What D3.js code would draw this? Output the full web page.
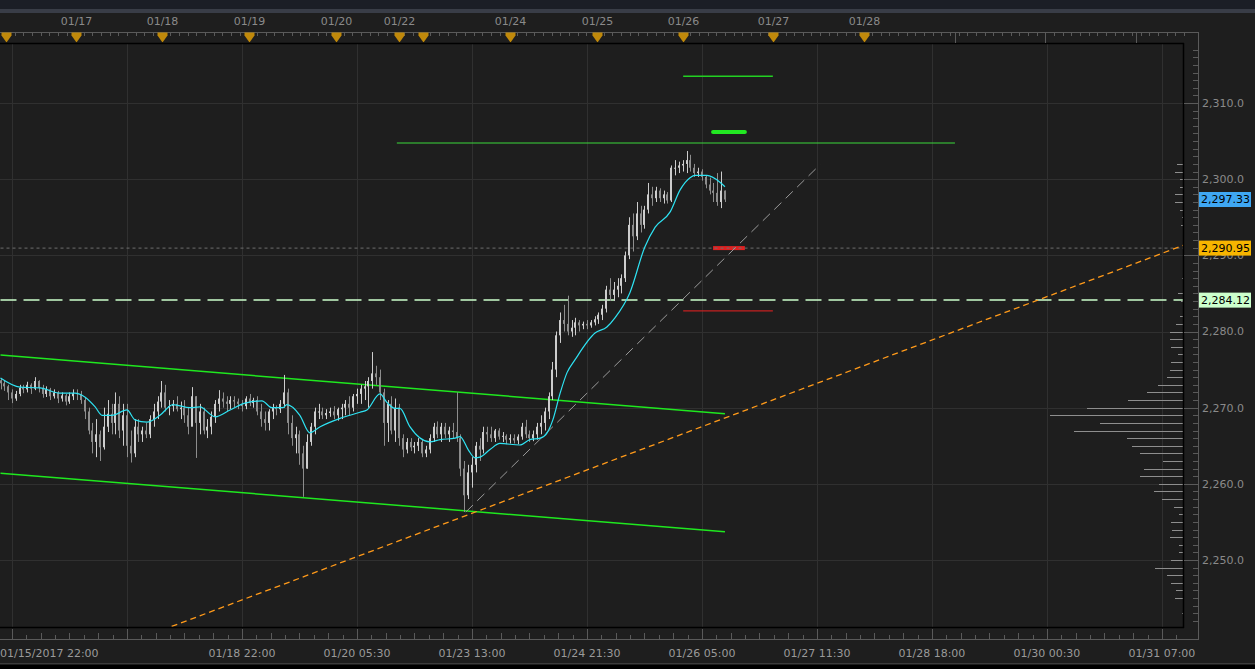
<!DOCTYPE html>
<html><head><meta charset="utf-8">
<script src="https://cdn.jsdelivr.net/npm/d3@7"></script>
<style>body{margin:0;background:#1e1e1e;overflow:hidden}svg{display:block}</style>
</head><body><svg id="c" width="1255" height="669"></svg>
<script>
// ---------- DATA ----------
const firstOpen = 2273.6;
const barClose = [2273.2,2272.8,2272.0,2271.2,2271.8,2272.6,2272.4,2273.0,2272.5,2273.5,
2272.6,2271.8,2272.4,2271.5,2272.0,2271.2,2271.6,2270.8,2271.5,2271.9,
2271.8,2271.0,2269.5,2267.0,2265.5,2266.5,2264.8,2267.5,2269.2,2268.0,
2270.5,2267.0,2269.0,2265.0,2264.0,2267.5,2266.5,2267.0,2266.5,2268.5,
2269.5,2270.8,2272.0,2270.0,2270.2,2270.5,2269.8,2270.0,2269.0,2267.5,
2271.5,2268.0,2269.5,2267.0,2267.5,2268.8,2270.5,2271.2,2270.8,2270.5,
2271.0,2270.8,2270.5,2270.2,2271.2,2270.6,2271.0,2269.5,2268.5,2268.0,
2269.5,2270.0,2269.8,2270.5,2272.0,2268.0,2266.0,2266.5,2264.0,2262.0,
2265.5,2267.5,2269.5,2269.5,2269.0,2269.3,2269.5,2269.0,2269.8,2270.0,
2270.5,2270.0,2271.5,2271.8,2272.5,2272.8,2273.5,2274.5,2274.0,2272.0,
2268.0,2270.5,2267.0,2270.0,2266.0,2264.5,2265.5,2264.8,2265.0,2265.5,
2264.0,2264.5,2266.0,2267.5,2266.5,2267.5,2266.5,2267.0,2266.8,2266.0,
2262.0,2258.5,2261.5,2262.5,2265.0,2264.5,2266.8,2266.5,2266.0,2267.0,
2266.2,2266.3,2265.8,2266.0,2265.7,2266.2,2267.5,2266.5,2266.0,2266.5,
2267.5,2268.0,2269.5,2271.5,2275.0,2279.5,2281.5,2281.0,2280.0,2280.5,
2281.2,2280.8,2281.0,2280.8,2281.2,2281.6,2282.2,2283.0,2285.5,2284.8,
2285.5,2286.0,2287.0,2290.0,2294.0,2292.5,2295.5,2294.0,2296.0,2298.0,
2297.5,2298.5,2297.5,2298.0,2297.2,2301.5,2301.5,2301.8,2302.0,2302.5,
2301.5,2300.8,2301.0,2300.3,2299.3,2298.5,2298.2,2297.0,2298.5,2297.33];
const barHigh = [2273.9,2273.6,2273.0,2272.4,2272.2,2273.0,2273.0,2273.4,2273.2,2274.0,
2273.6,2273.0,2272.8,2272.6,2272.4,2272.2,2272.0,2271.8,2272.0,2272.4,
2272.4,2272.2,2271.3,2270.0,2268.0,2268.5,2267.0,2270.0,2271.0,2270.5,
2272.0,2271.5,2270.5,2270.5,2267.0,2268.5,2268.5,2267.5,2268.0,2269.0,
2270.5,2271.5,2273.5,2273.0,2271.0,2271.0,2271.5,2270.8,2271.0,2270.0,
2272.7,2271.5,2270.5,2270.0,2268.5,2269.5,2271.0,2272.3,2272.0,2271.5,
2271.5,2271.5,2271.2,2271.0,2271.5,2271.8,2271.3,2271.5,2270.5,2269.5,
2269.8,2270.5,2270.3,2271.0,2274.3,2272.5,2269.0,2267.5,2267.0,2265.0,
2266.5,2268.0,2270.0,2270.5,2270.0,2269.8,2270.0,2270.2,2270.0,2270.5,
2271.0,2271.5,2271.8,2272.5,2273.0,2273.5,2274.0,2277.3,2275.5,2275.0,
2272.5,2271.0,2271.5,2271.2,2270.5,2266.5,2266.0,2266.0,2265.5,2266.0,
2265.8,2265.0,2266.5,2268.0,2268.2,2268.0,2268.0,2267.5,2268.0,2272.0,
2266.5,2263.0,2262.5,2263.5,2265.5,2266.0,2267.5,2267.5,2267.5,2267.2,
2267.3,2266.8,2266.5,2266.5,2266.5,2266.5,2268.0,2268.4,2267.0,2267.0,
2268.0,2269.0,2270.0,2272.0,2276.0,2280.0,2282.5,2283.5,2284.7,2281.5,
2281.8,2281.5,2281.3,2281.5,2281.5,2282.0,2282.5,2283.5,2286.0,2287.0,
2286.5,2287.0,2287.5,2290.5,2295.0,2295.5,2297.0,2296.5,2296.5,2299.5,
2299.0,2299.0,2298.8,2298.5,2298.3,2301.8,2302.5,2302.3,2302.5,2303.7,
2303.2,2302.0,2301.5,2301.3,2300.5,2300.2,2299.5,2300.8,2301.0,2298.5];
const barLow = [2272.4,2272.2,2271.0,2270.6,2270.9,2271.5,2271.9,2272.0,2271.8,2272.3,
2272.0,2271.3,2271.4,2271.0,2271.2,2270.6,2270.8,2270.3,2270.5,2271.0,
2271.0,2270.5,2268.5,2266.5,2264.0,2263.5,2263.0,2264.5,2266.8,2266.5,
2266.5,2266.0,2265.0,2263.5,2262.8,2263.5,2265.5,2265.5,2266.0,2266.0,
2267.5,2268.5,2270.0,2269.5,2269.0,2269.5,2269.5,2268.5,2268.0,2266.5,
2268.5,2263.4,2266.5,2266.5,2266.0,2266.5,2268.0,2269.5,2270.0,2269.5,
2269.8,2270.0,2269.8,2269.5,2269.8,2270.2,2270.0,2269.0,2267.5,2267.0,
2267.0,2268.5,2269.0,2269.3,2270.0,2266.5,2265.0,2264.0,2262.5,2258.3,
2262.0,2265.0,2266.5,2268.5,2268.5,2268.5,2268.8,2268.5,2268.3,2268.5,
2269.0,2269.0,2269.5,2270.5,2270.5,2271.0,2270.0,2272.5,2273.0,2271.0,
2265.0,2265.5,2266.5,2265.5,2265.0,2263.5,2264.0,2264.3,2264.0,2264.3,
2263.5,2263.5,2264.0,2265.5,2266.0,2265.5,2266.0,2265.5,2266.0,2265.5,
2261.0,2256.3,2258.0,2259.5,2261.5,2263.0,2264.0,2265.5,2265.5,2265.5,
2265.8,2265.5,2265.2,2265.3,2265.3,2265.2,2265.8,2266.0,2265.5,2265.6,
2265.8,2266.5,2267.0,2268.5,2271.0,2274.0,2278.5,2280.0,2279.5,2279.3,
2279.5,2280.0,2280.3,2280.3,2280.5,2280.8,2281.0,2281.5,2282.5,2284.0,
2284.0,2284.5,2285.0,2286.5,2289.5,2290.5,2292.0,2293.0,2293.5,2295.5,
2296.5,2297.0,2297.0,2296.8,2296.8,2297.0,2300.5,2300.8,2301.0,2300.8,
2301.0,2300.3,2300.3,2299.8,2298.8,2298.0,2297.0,2296.5,2296.2,2297.0];

const maIdx = [0,5.1,10.3,15.5,19.4,22,24.7,26.5,29.1,33,35.1,38.2,41.6,45,49.4,52,56,59.9,63.8,68.2,
70.8,73.7,74.7,78.1,80.7,83.4,88.6,93.8,95.6,99,100.8,102.9,104.2,106.8,112,114.7,118.6,119.9,122,123.8,
125.1,127.7,130.3,135.5,138.1,140.8,142.6,144.1,146,147.8,149.9,155.1,158.2,160.3,164.2,168.1,170.8,174.7,177.3,179.9,
181.2,184.3,187.7,189];
const maVal = [2273.9,2272.7,2272.6,2271.9,2271.9,2271.4,2270.1,2269.0,2269.0,2269.7,2268.4,2268.1,2269.0,2270.4,2270.0,
2270.1,2268.8,2269.7,2270.6,2270.9,2270.0,2270.0,2270.4,2269.0,2266.7,2267.5,2268.6,2269.4,2269.7,2271.8,
2270.7,2269.9,2269.9,2267.5,2265.5,2265.8,2266.0,2266.2,2264.5,2263.4,2263.5,2264.5,2265.3,2265.1,2265.8,
2266.0,2266.7,2268.4,2271.9,2274.6,2276.3,2279.8,2280.6,2281.8,2285.1,2291.1,2293.7,2295.7,2298.6,2300.2,
2300.5,2300.5,2299.6,2299.0];

const profilePrice = [2302,2301,2300,2299,2298,2297,2296,2295,2294,2287,2285,2284,2282,2281,2280,2279,2278,2277,2276,2275,2274,2273,2272,2271,2270,2269,2268,2267,2266,2265,2264,2263,2262,2261,2260,2259,2258,2257,2256,2255,2254,2253,2252,2251,2250,2249,2248,2247,2246,2245,2243];
const profileVol = [6,8,3,3,8,8,3,1,2,1,5,2,3,7,13,13,12,5,12,13,16,25,36,55,96,133,83,109,56,51,43,20,39,43,24,29,21,9,4,12,11,13,4,4,12,28,16,12,7,8,1];

const topTickIdx = [1.4,19.7,42.1,64.8,87.5,104,110.2,133,155.6,178.1,201.6,225.3];
const topTickLabel = ["","01/17","01/18","01/19","01/20","01/22","","01/24","01/25","01/26","01/27","01/28"];
const topExtraIdx = [249,272.5,296.2];
const bottomTickIdx = [3,33,63,93,123,153,183,213,243,273,303];
const bottomTickLabel = ["01/15/2017 22:00","","01/18 22:00","01/20 05:30","01/23 13:00","01/24 21:30","01/26 05:00","01/27 11:30","01/28 18:00","01/30 00:30","01/31 07:00"];
const priceTicks = [2250,2260,2270,2280,2290,2300,2310];

const lastPrice = 2297.33, pivotPrice = 2290.95, levelPrice = 2284.12;
const channelUpper = [[0,2276.9],[189,2269.2]];
const channelLower = [[0,2261.4],[189,2253.7]];
const trendOrange = [[30,2238.5],[308.5,2291.3]];
const trendGrey = [[121.4,2256.3],[213.8,2301.9]];
const levelGreenLong = [[103.4,2304.75],[249,2304.75]];
const levelGreenTop = [[178.1,2313.5],[201.5,2313.5]];
const levelGreenThick = [[185.9,2306.2],[194.2,2306.2]];
const levelRedThick = [[185.9,2290.95],[194.2,2290.95]];
const levelRedThin = [[178.1,2282.7],[201.5,2282.7]];

// ---------- LAYOUT ----------
const W=1255,H=669, PL=0, PR=1183, PT=44, PB=627, AX=1198;
const FONT='"DejaVu Sans", sans-serif';
const svg=d3.select('#c');
const x=d3.scaleLinear().domain([0,308.5]).range([0.5,PR]);
const y=d3.scaleLinear().domain([2250,2310]).range([560,103]);
const pv=d3.scaleLinear().domain([0,133]).range([0,133]);

svg.append('rect').attr('width',W).attr('height',H).attr('fill','#1e1e1e');
svg.append('rect').attr('width',W).attr('height',9).attr('fill','#1b1e26');
svg.append('rect').attr('y',9).attr('width',W).attr('height',4).attr('fill','#393d47');
svg.append('rect').attr('y',665).attr('width',W).attr('height',4).attr('fill','#000');
svg.append('line').attr('x1',0).attr('x2',W).attr('y1',663.5).attr('y2',663.5).attr('stroke','#3c3c3c');

svg.append('defs').append('clipPath').attr('id','pc').append('rect')
  .attr('x',PL).attr('y',PT).attr('width',PR-PL).attr('height',PB-PT);
const plot=svg.append('g').attr('clip-path','url(#pc)');

// grid
plot.selectAll('.vg').data(bottomTickIdx).join('line')
  .attr('x1',d=>Math.round(x(d))+0.5).attr('x2',d=>Math.round(x(d))+0.5)
  .attr('y1',PT).attr('y2',PB).attr('stroke','#303030');
plot.selectAll('.hg').data(priceTicks).join('line')
  .attr('x1',PL).attr('x2',PR).attr('y1',d=>Math.round(y(d))+0.5).attr('y2',d=>Math.round(y(d))+0.5)
  .attr('stroke','#303030');

// volume profile
plot.selectAll('.pf').data(profilePrice).join('line')
  .attr('x1',(d,i)=>PR-pv(profileVol[i])).attr('x2',PR)
  .attr('y1',d=>Math.round(y(d))+0.5).attr('y2',d=>Math.round(y(d))+0.5)
  .attr('stroke','#8e8e8e').attr('stroke-width',1);

const seg=(pts,color,w,dash,cap)=>plot.append('line')
  .attr('x1',x(pts[0][0])).attr('y1',y(pts[0][1])).attr('x2',x(pts[1][0])).attr('y2',y(pts[1][1]))
  .attr('stroke',color).attr('stroke-width',w).attr('stroke-dasharray',dash||null)
  .attr('stroke-linecap',cap||'butt');

// level lines
seg([[0,levelPrice],[308.5,levelPrice]],'#ccffcc',1.5,'16,7');
seg(levelRedThick,'#e02020',4,null);
seg([[0,pivotPrice],[308.5,pivotPrice]],'#6e6e6e',1,'3,3');
seg(channelUpper,'#1fe81f',1.5);
seg(channelLower,'#1fe81f',1.5);
seg(trendOrange,'#ff9a1a',1.3,'6,4');
seg(trendGrey,'#9a9a9a',1,'10,6');
seg(levelGreenLong,'#3ad83a',1.2);
seg(levelGreenTop,'#22d022',1.5);
seg(levelGreenThick,'#22e822',4,null,'round');
seg(levelRedThin,'#c42020',1.2);

// candles
const bars=barClose.map((c,i)=>({i,o:i?barClose[i-1]:firstOpen,h:barHigh[i],l:barLow[i],c}));
const cg=plot.append('g');
cg.selectAll('.wk').data(bars).join('line')
  .attr('x1',d=>Math.round(x(d.i))+0.5).attr('x2',d=>Math.round(x(d.i))+0.5)
  .attr('y1',d=>y(d.h)).attr('y2',d=>y(d.l))
  .attr('stroke',d=>d.c>=d.o?'#cdcdcd':'#8d8d8d').attr('stroke-width',1);
cg.selectAll('.bd').data(bars).join('rect')
  .attr('x',d=>Math.round(x(d.i))-1).attr('width',2)
  .attr('y',d=>y(Math.max(d.o,d.c))).attr('height',d=>Math.max(1,Math.abs(y(d.o)-y(d.c))))
  .attr('fill',d=>d.c>=d.o?'#cdcdcd':'#8d8d8d');

// MA
plot.append('path').datum(maIdx.map((d,i)=>[d,maVal[i]]))
  .attr('d',d3.line().x(d=>x(d[0])).y(d=>y(d[1])).curve(d3.curveMonotoneX))
  .attr('fill','none').attr('stroke','#2ee3f3').attr('stroke-width',1.2);

// frame
svg.append('line').attr('x1',0).attr('x2',PR+1).attr('y1',43.5).attr('y2',43.5).attr('stroke','#000').attr('stroke-width',1.5);
svg.append('line').attr('x1',PR+0.5).attr('x2',PR+0.5).attr('y1',43).attr('y2',PB+1).attr('stroke','#000').attr('stroke-width',1.5);
svg.append('line').attr('x1',0).attr('x2',PR+1).attr('y1',PB+0.5).attr('y2',PB+0.5).attr('stroke','#000').attr('stroke-width',1.5);

// top axis
const axC='#5a5a5a';
svg.append('line').attr('x1',0).attr('x2',AX).attr('y1',32.5).attr('y2',32.5).attr('stroke',axC);
svg.selectAll('.tm').data(d3.range(1.4,310,2.26)).join('line')
  .attr('x1',d=>Math.round(x(d))+0.5).attr('x2',d=>Math.round(x(d))+0.5)
  .attr('y1',32).attr('y2',36).attr('stroke',axC);
svg.selectAll('.tx').data(topExtraIdx).join('line')
  .attr('x1',d=>Math.round(x(d))+0.5).attr('x2',d=>Math.round(x(d))+0.5)
  .attr('y1',32).attr('y2',43).attr('stroke',axC);
const tg=svg.selectAll('.tt').data(topTickIdx).join('g').attr('transform',d=>`translate(${Math.round(x(d))+0.5},0)`);
tg.append('line').attr('y1',41).attr('y2',44).attr('stroke','#000');
tg.append('path').attr('d','M-5,32.5h10v3l-5,7l-5,-7z').attr('fill','#c0890b');
tg.append('text').attr('y',21).attr('dy','0.35em').attr('text-anchor','middle')
  .attr('font-family',FONT).attr('font-size',11).attr('fill','#8a8a8a')
  .text((d,i)=>topTickLabel[i]);

// bottom axis
svg.append('line').attr('x1',0).attr('x2',AX).attr('y1',639.5).attr('y2',639.5).attr('stroke',axC);
svg.selectAll('.bm').data(d3.range(3-30,310,30/8)).join('line')
  .attr('x1',d=>Math.round(x(d))+0.5).attr('x2',d=>Math.round(x(d))+0.5)
  .attr('y1',639).attr('y2',(d,i)=>i%8===0?629:(i%2===0?633:635)).attr('stroke',axC)
  .filter(d=>x(d)<0||x(d)>AX).remove();
svg.selectAll('.bl').data(bottomTickIdx).join('text')
  .attr('y',653).attr('dy','0.35em').attr('text-anchor','middle')
  .attr('font-family',FONT).attr('font-size',11).attr('fill','#9a9a9a')
  .text((d,i)=>bottomTickLabel[i])
  .attr('x',function(d){const w=this.getComputedTextLength();return Math.max(w/2,x(d));});

// right axis
svg.append('line').attr('x1',AX+0.5).attr('x2',AX+0.5).attr('y1',32).attr('y2',640).attr('stroke',axC);
svg.selectAll('.rm').data(d3.range(2242,2318,1).filter(v=>y(v)>PT&&y(v)<PB)).join('line')
  .attr('x1',d=>d%10===0?PR+1:AX-5).attr('x2',AX)
  .attr('y1',d=>Math.round(y(d))+0.5).attr('y2',d=>Math.round(y(d))+0.5).attr('stroke',axC);
svg.selectAll('.rl').data(priceTicks).join('text')
  .attr('x',AX+4).attr('y',d=>y(d)).attr('dy','0.35em')
  .attr('font-family',FONT).attr('font-size',11).attr('fill','#8a8a8a')
  .text(d=>d3.format(',.1f')(d));

// badges
const badges=[[lastPrice,'#3fa7f3'],[pivotPrice,'#f7b500'],[levelPrice,'#ccffcc']];
const bg=svg.selectAll('.bg').data(badges).join('g').attr('transform',d=>`translate(${AX+1},${y(d[0])})`);
bg.append('rect').attr('x',0).attr('y',-7.5).attr('width',52).attr('height',15).attr('fill',d=>d[1]);
bg.append('text').attr('x',2).attr('dy','0.36em').attr('font-family',FONT).attr('font-size',11)
  .attr('fill','#000').text(d=>d3.format(',.2f')(d[0]));
</script></body></html>
